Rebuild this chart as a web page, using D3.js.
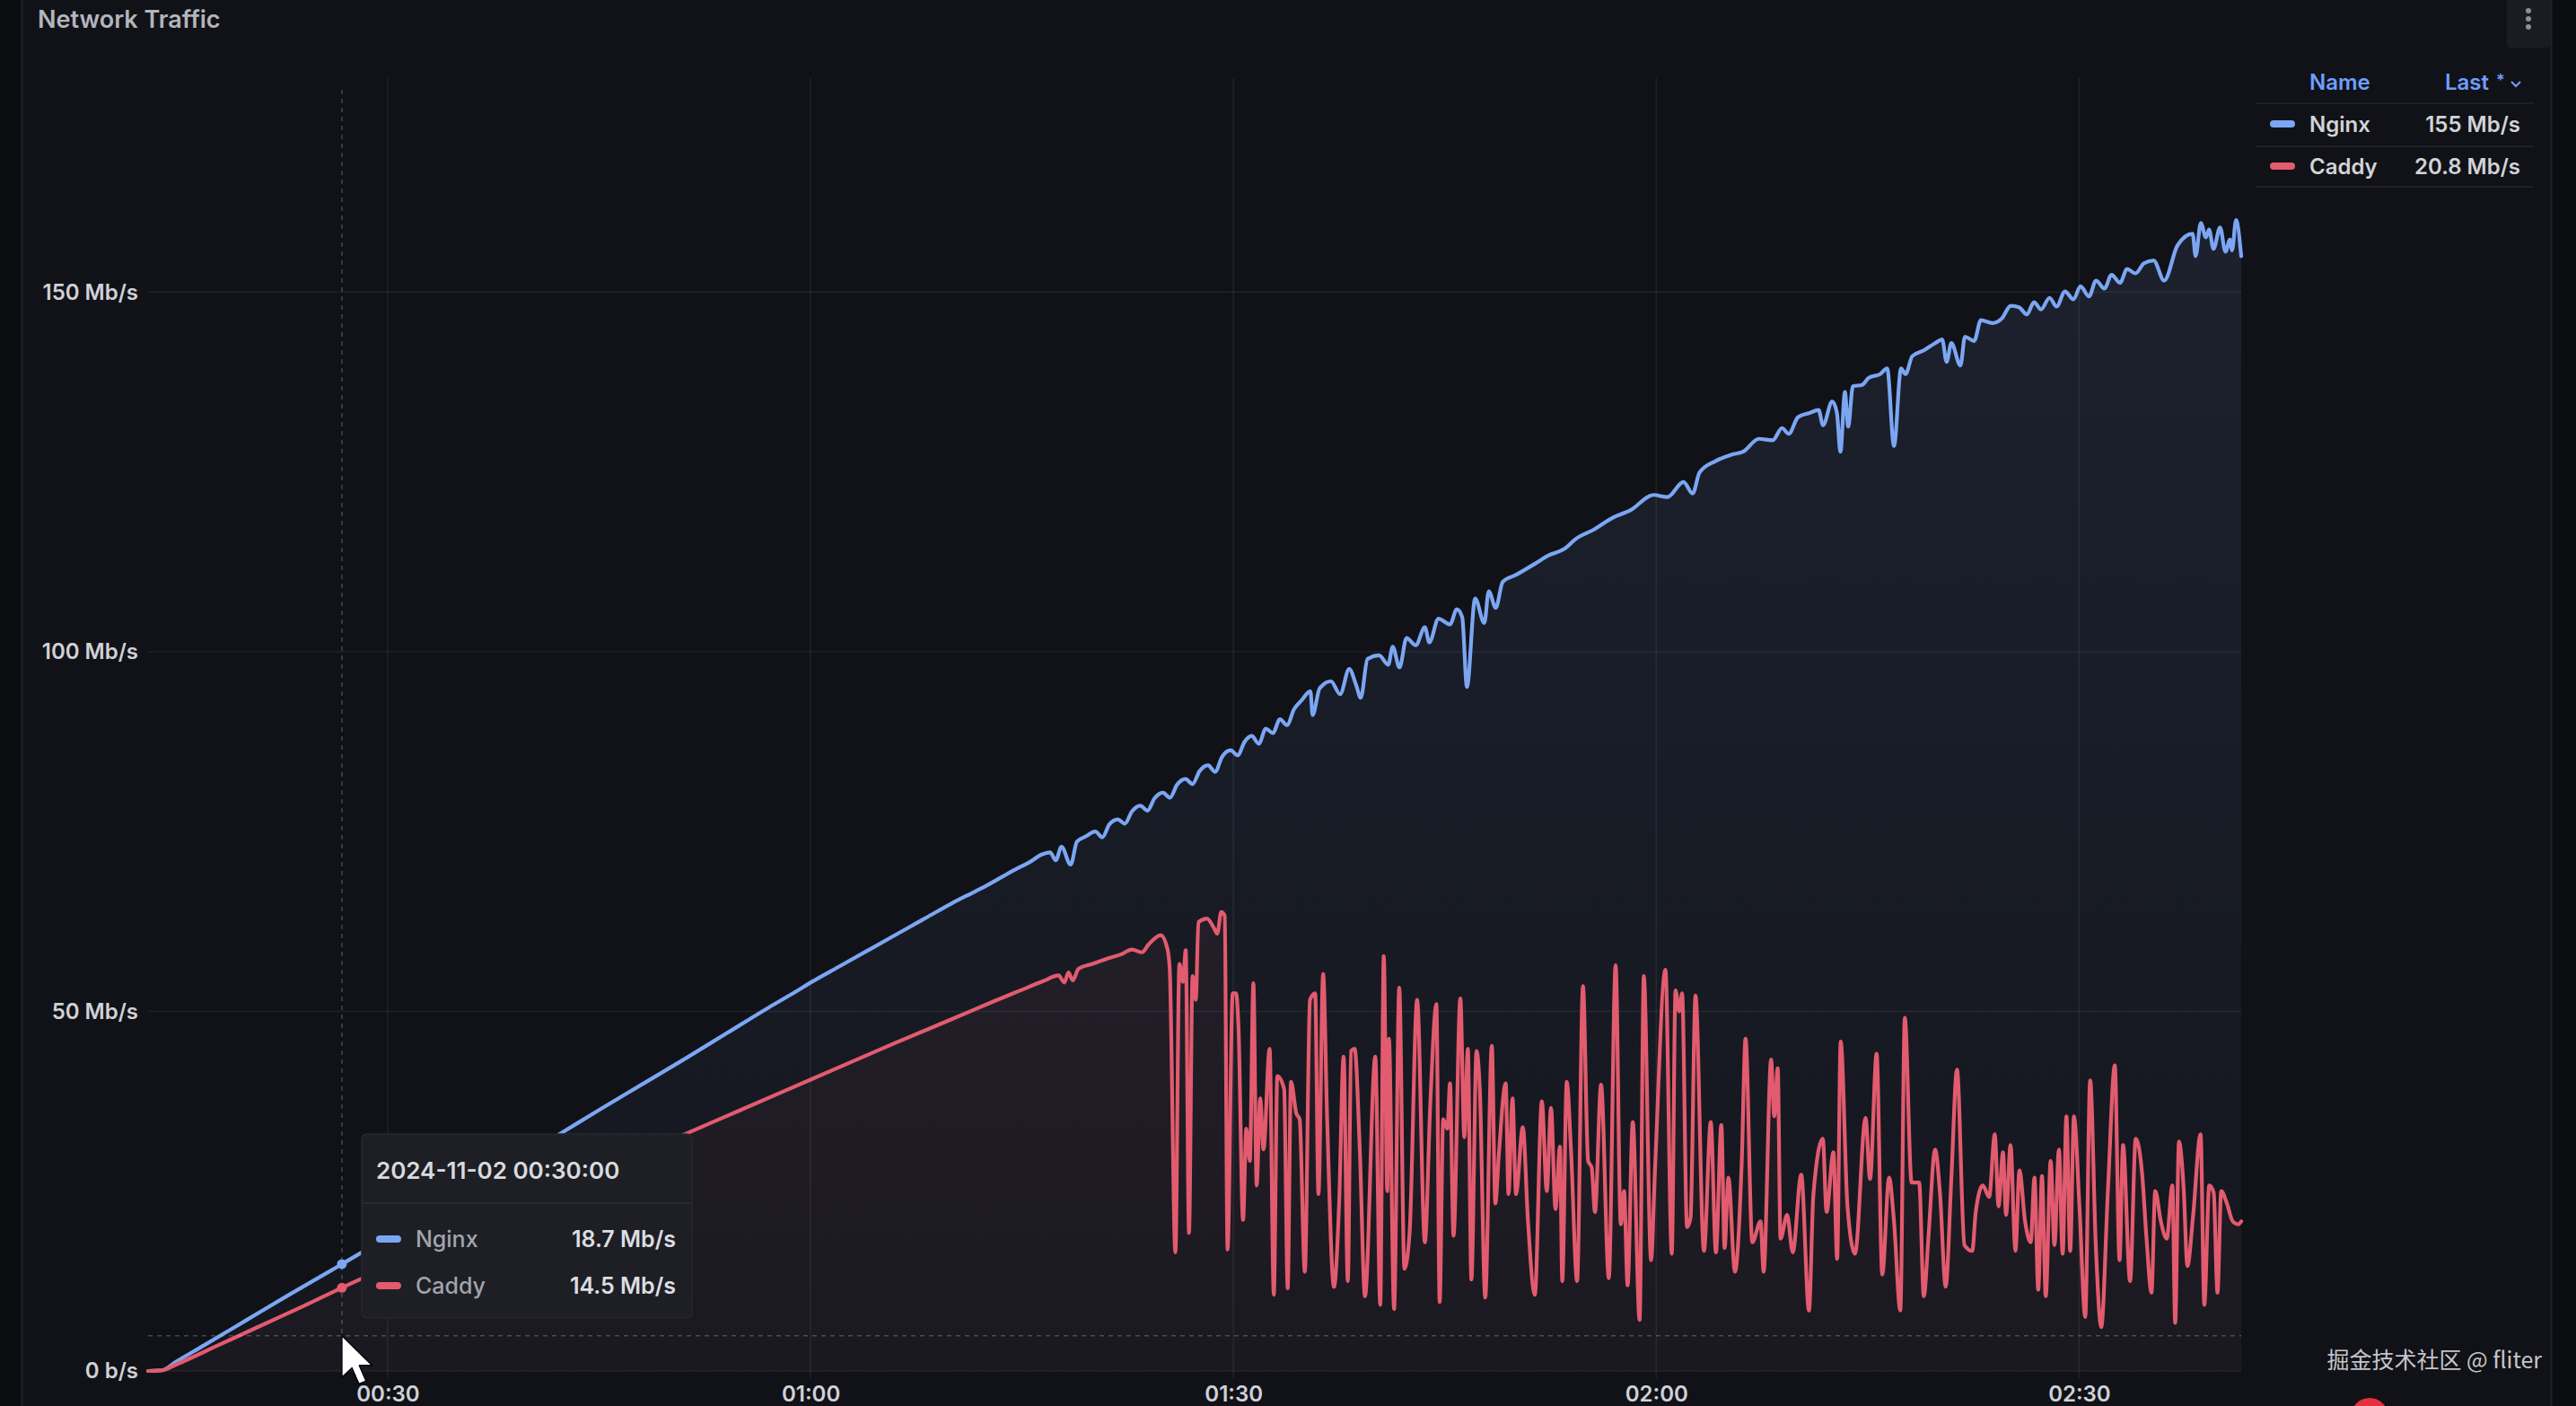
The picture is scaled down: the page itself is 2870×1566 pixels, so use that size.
<!DOCTYPE html>
<html>
<head>
<meta charset="utf-8">
<title>Network Traffic</title>
<script src="https://cdn.jsdelivr.net/npm/d3@7"></script>
<style>
  html, body { margin: 0; padding: 0; background: #0c0d10; overflow: hidden; }
  svg { display: block; font-family: Inter, "Noto Sans", sans-serif; }
</style>
</head>
<body>
<script>
const day = "2024-11-02";
const seriesNames = ["Nginx", "Caddy"];
const seriesColors = ["#7ba6f3", "#e25b6e"];

// [minute of day, Mb/s]
const nginxPoints = [
  [13.0, 0], [14.0, 0.1], [15.0, 1.3], [17.0, 3.6], [20.0, 7.1], [23.0, 10.6], [26.0, 14.0], [28.0, 16.3],
  [30.0, 18.7], [33.0, 22.2], [36.0, 25.7], [39.0, 29.2], [42.0, 32.7], [45.0, 36.3], [48.0, 39.8], [51.0, 43.3],
  [54.0, 46.9], [57.0, 50.5], [59.0, 52.8], [60.0, 54.0], [62.0, 56.2], [64.0, 58.4], [66.0, 60.6], [68.0, 62.8],
  [70.0, 65.0], [71.5, 66.5], [72.4, 67.4], [73.5, 68.6], [74.5, 69.7], [75.5, 70.7], [76.4, 71.8], [77.0, 72.1],
  [77.4, 71.0], [77.8, 72.9], [78.45, 70.4], [78.9, 73.6], [79.5, 74.3], [80.2, 75.0], [80.7, 74.2], [81.2, 76.0],
  [81.8, 76.7], [82.3, 76.1], [82.8, 77.8], [83.4, 78.6], [83.9, 77.9], [84.4, 79.6], [85.0, 80.4], [85.5, 79.7],
  [86.0, 81.5], [86.6, 82.3], [87.1, 81.6], [87.6, 83.4], [88.2, 84.2], [88.7, 83.3], [89.2, 85.4], [89.8, 86.3],
  [90.3, 85.6], [90.8, 87.5], [91.3, 88.3], [91.8, 87.2], [92.3, 89.3], [92.8, 88.7], [93.3, 90.6], [93.8, 89.8],
  [94.3, 92.0], [94.81, 93.2], [95.46, 94.5], [95.62, 91.2], [96.11, 94.9], [96.92, 95.9], [97.57, 94.1], [98.22, 97.6],
  [98.71, 95.3], [99.03, 93.6], [99.52, 99.0], [100.33, 99.5], [100.98, 98.2], [101.30, 100.7], [101.79, 97.8], [102.28, 101.9],
  [102.93, 100.9], [103.58, 103.4], [103.90, 101.3], [104.55, 104.6], [105.36, 103.8], [105.85, 105.9], [106.24, 104.8], [106.57, 95.1],
  [107.15, 107.4], [107.80, 104.0], [108.12, 108.4], [108.61, 106.1], [109.10, 109.7], [110.07, 110.7], [111.37, 112.2], [112.35, 113.4],
  [113.48, 114.3], [114.30, 115.7], [115.59, 117.0], [116.89, 118.6], [118.19, 119.7], [119.82, 121.8], [120.79, 121.5], [121.93, 123.6],
  [122.58, 122.0], [123.07, 124.9], [124.20, 126.5], [125.34, 127.4], [126.15, 127.8], [127.29, 129.6], [128.26, 129.4], [128.91, 131.1],
  [129.40, 130.3], [130.05, 132.6], [130.86, 133.2], [131.51, 133.6], [131.84, 131.5], [132.49, 134.8], [132.81, 133.2], [133.07, 127.8],
  [133.39, 136.1], [133.62, 131.3], [133.95, 136.9], [134.60, 137.1], [135.08, 138.1], [135.89, 138.6], [136.38, 139.4], [136.87, 128.6],
  [137.36, 139.4], [137.68, 138.6], [138.17, 141.1], [138.98, 141.9], [139.79, 142.9], [140.28, 143.4], [140.60, 140.3], [140.93, 142.9],
  [141.58, 139.8], [141.90, 143.8], [142.55, 143.2], [143.04, 146.1], [143.85, 145.7], [144.50, 146.3], [145.15, 148.1], [145.74, 147.9],
  [146.3, 146.9], [146.8, 148.6], [147.3, 147.6], [147.9, 149.2], [148.4, 148.0], [149.0, 150.1], [149.6, 149.0], [150.1, 150.8],
  [150.7, 149.4], [151.2, 151.6], [151.8, 150.5], [152.3, 152.4], [152.9, 151.3], [153.4, 153.2], [154.0, 152.6], [154.6, 154.0],
  [155.29, 154.4], [156.03, 151.6], [156.99, 156.5], [158.05, 158.1], [158.26, 155.0], [158.64, 159.6], [159.00, 157.6], [159.22, 158.7],
  [159.53, 156.0], [160.00, 159.0], [160.38, 155.6], [160.70, 157.3], [160.85, 155.8], [161.13, 160.0], [161.5, 155.0]
];

const caddyPoints = [
  [13.0, 0], [14.0, 0.1], [15.0, 0.9], [18.0, 3.6], [21.0, 6.3], [24.0, 9.0], [27.0, 11.8], [30.0, 14.5],
  [34.0, 18.0], [38.0, 21.5], [42.0, 25.0], [46.0, 28.5], [50.0, 32.0], [54.0, 35.4], [58.0, 38.8], [62.0, 42.2],
  [66.0, 45.6], [70.0, 48.9], [73.0, 51.4], [75.0, 53.0], [76.5, 54.2], [77.6, 55.0], [78.0, 54.0], [78.3, 55.4],
  [78.6, 54.3], [79.0, 55.9], [80.0, 56.6], [81.0, 57.3], [82.0, 57.9], [82.8, 58.6], [83.5, 58.2], [83.98, 59.3],
  [84.83, 60.6], [85.32, 58.7], [85.49, 55.8], [85.88, 16.5], [86.17, 56.6], [86.42, 54.1], [86.61, 58.5], [86.85, 19.2],
  [87.10, 54.9], [87.34, 51.6], [87.51, 62.4], [88.12, 62.9], [88.61, 61.6], [88.85, 60.8], [89.14, 63.8], [89.39, 63.3],
  [89.58, 16.9], [89.95, 52.5], [90.19, 52.5], [90.36, 47.5], [90.68, 21.0], [90.92, 33.7], [91.17, 29.2], [91.41, 53.9],
  [91.65, 25.8], [91.90, 37.9], [92.14, 30.8], [92.56, 44.8], [92.87, 10.6], [93.12, 41.0], [93.60, 39.2], [93.85, 11.5],
  [94.09, 40.2], [94.46, 35.8], [94.70, 35.0], [95.06, 13.8], [95.43, 51.6], [95.80, 52.5], [96.04, 24.6], [96.36, 55.2],
  [96.65, 35.0], [97.14, 11.7], [97.50, 23.3], [97.82, 43.7], [98.11, 12.5], [98.35, 44.5], [98.60, 44.8], [98.96, 30.8],
  [99.33, 10.4], [100.06, 43.7], [100.42, 9.2], [100.67, 57.7], [100.91, 25.0], [101.03, 46.2], [101.40, 8.6], [101.76, 53.3],
  [102.13, 14.2], [102.50, 19.2], [103.03, 51.6], [103.59, 17.9], [103.96, 37.1], [104.40, 51.0], [104.64, 9.6], [104.88, 35.0],
  [105.18, 33.7], [105.37, 40.0], [105.61, 18.8], [106.10, 51.8], [106.39, 32.5], [106.64, 44.8], [106.88, 12.7], [107.25, 44.5],
  [107.49, 39.1], [107.86, 10.2], [108.34, 45.2], [108.59, 23.3], [108.83, 30.2], [109.32, 40.0], [109.51, 24.6], [109.80, 37.9],
  [110.05, 24.6], [110.54, 33.9], [110.90, 20.8], [111.39, 10.6], [111.88, 37.5], [112.24, 25.0], [112.53, 36.6], [112.85, 22.5],
  [113.17, 31.2], [113.34, 12.5], [113.65, 40.2], [113.95, 30.8], [114.38, 12.5], [114.80, 53.5], [115.16, 29.2], [115.41, 28.3],
  [115.65, 22.1], [116.09, 39.8], [116.63, 12.9], [117.11, 56.4], [117.48, 20.4], [117.72, 25.0], [117.97, 11.9], [118.33, 34.6],
  [118.82, 7.1], [119.11, 54.9], [119.63, 15.4], [119.90, 27.5], [120.65, 55.8], [121.10, 16.3], [121.37, 52.9], [121.64, 50.0],
  [121.83, 52.5], [122.18, 20.0], [122.44, 21.3], [122.79, 52.2], [123.38, 16.7], [123.86, 34.6], [124.24, 16.5], [124.61, 34.2],
  [124.85, 17.1], [125.12, 26.9], [125.58, 13.8], [126.06, 29.2], [126.33, 46.2], [126.81, 17.9], [127.40, 20.8], [127.61, 13.8],
  [128.15, 43.3], [128.37, 35.4], [128.61, 42.1], [128.82, 18.4], [129.28, 21.7], [129.68, 16.5], [130.29, 27.3], [130.83, 8.4],
  [131.15, 24.6], [131.82, 32.3], [132.09, 22.1], [132.57, 30.4], [132.84, 15.6], [133.08, 45.8], [133.56, 22.9], [134.10, 16.3],
  [134.85, 35.2], [135.17, 26.7], [135.63, 44.1], [136.03, 13.4], [136.51, 26.9], [136.86, 20.8], [137.31, 8.4], [137.64, 49.1],
  [138.12, 26.2], [138.65, 26.2], [138.98, 10.4], [139.32, 18.8], [139.78, 30.8], [140.13, 24.6], [140.53, 11.7], [140.93, 26.7],
  [141.33, 41.9], [141.87, 17.5], [142.41, 16.7], [142.67, 22.1], [143.16, 25.8], [143.61, 24.2], [144.01, 32.9], [144.28, 22.9],
  [144.60, 30.4], [144.82, 21.7], [145.14, 31.4], [145.49, 16.7], [145.76, 27.9], [146.16, 20.8], [146.56, 17.9], [146.83, 26.9],
  [147.10, 11.3], [147.36, 27.1], [147.63, 10.4], [147.98, 29.2], [148.25, 17.5], [148.57, 30.8], [148.84, 16.3], [149.10, 35.4],
  [149.37, 16.7], [149.64, 35.4], [150.04, 22.5], [150.44, 7.5], [150.79, 40.4], [151.19, 17.5], [151.57, 6.1], [152.05, 25.4],
  [152.53, 42.5], [152.86, 15.4], [153.12, 31.4], [153.61, 12.5], [154.01, 32.3], [154.46, 27.5], [154.79, 18.4], [155.13, 10.9],
  [155.40, 25.0], [155.80, 20.8], [156.21, 18.4], [156.61, 25.8], [156.82, 6.7], [157.09, 31.9], [157.41, 25.4], [157.68, 14.6],
  [158.08, 21.5], [158.62, 32.9], [158.88, 9.2], [159.23, 25.8], [159.55, 24.8], [159.82, 10.9], [160.09, 25.0], [160.49, 23.3],
  [160.90, 20.8], [161.30, 20.4], [161.5, 20.8]
];

const yTicks = [0, 50, 100, 150];
const yMax = 180;
const tooltipMinute = 30;                    // 00:30:00
const crosshair = { minute: 26.75, value: 4.9 };
const watermark = "掘金技术社区 @ fliter";

const width = 2870, height = 1566;
const plot = { left: 165, right: 2497, top: 85, bottom: 1527 };

let base = d3.timeParse("%Y-%m-%d")(day);
let toDate = (m) => d3.timeSecond.offset(base, Math.round(m * 60));
let fmt = (v) => v === 0 ? "0 b/s" : d3.format(".3~r")(v) + " Mb/s";

let series = [nginxPoints, caddyPoints].map((pts, i) => ({
  name: seriesNames[i],
  color: seriesColors[i],
  values: pts.map(p => ({ date: toDate(p[0]), value: p[1] }))
}));

let x = d3.scaleTime()
  .domain([toDate(nginxPoints[0][0]), toDate(nginxPoints[nginxPoints.length - 1][0])])
  .range([plot.left, plot.right]);
let y = d3.scaleLinear().domain([0, yMax]).range([plot.bottom, plot.top]);

function valueAt(values, date) {
  let i = d3.bisector(d => d.date).left(values, date);
  if (i <= 0) return values[0].value;
  if (i >= values.length) return values[values.length - 1].value;
  let a = values[i - 1], b = values[i];
  let t = (date - a.date) / (b.date - a.date);
  return a.value + (b.value - a.value) * t;
}

let svg = d3.select("body").append("svg")
  .attr("width", width)
  .attr("height", height);

let defs = svg.append("defs");
series.forEach((s, i) => {
  let g = defs.append("linearGradient")
    .attr("id", "fill" + i)
    .attr("gradientUnits", "userSpaceOnUse")
    .attr("x1", 0).attr("x2", 0)
    .attr("y1", plot.top).attr("y2", plot.bottom);
  g.append("stop").attr("offset", 0).attr("stop-color", s.color).attr("stop-opacity", 0.11);
  g.append("stop").attr("offset", 1).attr("stop-color", s.color).attr("stop-opacity", 0.03);
});

// panel
svg.append("rect").attr("width", width).attr("height", height).attr("fill", "#0c0d10");
svg.append("rect")
  .attr("x", 24.5).attr("y", -10).attr("width", 2818).attr("height", height + 20)
  .attr("fill", "#111217").attr("stroke", "#202127").attr("stroke-width", 2);

svg.append("text")
  .attr("x", 42).attr("y", 31)
  .attr("font-size", 27).attr("font-weight", 600)
  .attr("fill", "#b3b5bc")
  .text("Network Traffic");

// panel menu
svg.append("rect").attr("x", 2793).attr("y", -6).attr("width", 49).attr("height", 59).attr("rx", 4).attr("fill", "#1b1c21");
svg.selectAll(".menu-dot").data([12, 21, 30]).enter().append("circle")
  .attr("cx", 2817).attr("cy", d => d).attr("r", 3).attr("fill", "#8d8f97");

//////////
// grid //
//////////

let grid = svg.append("g").attr("stroke", "rgba(204,204,220,0.09)").attr("stroke-width", 1.5);
grid.selectAll(".hgrid").data(yTicks).enter().append("line")
  .attr("x1", plot.left).attr("x2", plot.right)
  .attr("y1", d => y(d)).attr("y2", d => y(d));
let xTicks = x.ticks(d3.timeMinute.every(30));
grid.selectAll(".vgrid").data(xTicks).enter().append("line")
  .attr("x1", d => x(d)).attr("x2", d => x(d))
  .attr("y1", plot.top + 2).attr("y2", plot.bottom + 8);

////////////
// series //
////////////

let area = d3.area()
  .curve(d3.curveMonotoneX)
  .x(d => x(d.date))
  .y0(y(0))
  .y1(d => y(d.value));
let line = d3.line()
  .curve(d3.curveMonotoneX)
  .x(d => x(d.date))
  .y(d => y(d.value));

series.forEach((s, i) => {
  svg.append("path").datum(s.values)
    .attr("d", area)
    .attr("fill", "url(#fill" + i + ")");
  svg.append("path").datum(s.values)
    .attr("d", line)
    .attr("fill", "none")
    .attr("stroke", s.color)
    .attr("stroke-width", 4.2)
    .attr("stroke-linejoin", "round")
    .attr("stroke-linecap", "round");
});

//////////
// axes //
//////////

let yAxis = svg.append("g")
  .attr("transform", "translate(" + plot.left + ",0)")
  .call(d3.axisLeft(y).tickValues(yTicks).tickFormat(fmt).tickSize(0).tickPadding(11));
let xAxis = svg.append("g")
  .attr("transform", "translate(0," + plot.bottom + ")")
  .call(d3.axisBottom(x).ticks(d3.timeMinute.every(30)).tickFormat(d3.timeFormat("%H:%M")).tickSize(0).tickPadding(17));
[yAxis, xAxis].forEach(a => {
  a.select(".domain").remove();
  a.selectAll("text")
    .attr("font-family", "Inter, sans-serif")
    .attr("font-size", 24)
    .attr("font-weight", 600)
    .attr("fill", "#d0d1d7");
});

///////////////
// crosshair //
///////////////

let cx = x(toDate(crosshair.minute));
let cy = y(crosshair.value);
let hair = svg.append("g")
  .attr("stroke", "rgba(210,210,220,0.28)")
  .attr("stroke-width", 1.5)
  .attr("stroke-dasharray", "5 5");
hair.append("line").attr("x1", cx).attr("x2", cx).attr("y1", plot.top + 15).attr("y2", plot.bottom);
hair.append("line").attr("x1", plot.left).attr("x2", plot.right).attr("y1", cy).attr("y2", cy);

series.forEach(s => {
  svg.append("circle")
    .attr("cx", cx)
    .attr("cy", y(valueAt(s.values, toDate(crosshair.minute))))
    .attr("r", 5.5)
    .attr("fill", s.color);
});

/////////////
// tooltip //
/////////////

let tipDate = toDate(tooltipMinute);
let tip = svg.append("g").attr("transform", "translate(" + (cx + 22) + "," + 1263 + ")");
tip.append("rect")
  .attr("width", 368).attr("height", 205).attr("rx", 6)
  .attr("fill", "#1d1f25").attr("stroke", "#26282e").attr("stroke-width", 1.5);
tip.append("text")
  .attr("x", 16).attr("y", 50)
  .attr("font-size", 26).attr("font-weight", 600)
  .attr("fill", "#d9dade")
  .text(d3.timeFormat("%Y-%m-%d %H:%M:%S")(tipDate));
tip.append("line").attr("x1", 0).attr("x2", 368).attr("y1", 77).attr("y2", 77)
  .attr("stroke", "#2d2f36").attr("stroke-width", 1.5);
let tipRow = tip.selectAll(".row").data(series).enter().append("g")
  .attr("transform", (d, i) => "translate(0," + (117 + i * 52) + ")");
tipRow.append("rect")
  .attr("x", 16).attr("y", -4).attr("width", 28).attr("height", 8).attr("rx", 4)
  .attr("fill", d => d.color);
tipRow.append("text")
  .attr("x", 60).attr("y", 9)
  .attr("font-size", 25).attr("font-weight", 500)
  .attr("fill", "#a2a4ab")
  .text(d => d.name);
tipRow.append("text")
  .attr("x", 350).attr("y", 9)
  .attr("text-anchor", "end")
  .attr("font-size", 25).attr("font-weight", 600)
  .attr("fill", "#dcdde2")
  .text(d => fmt(+valueAt(d.values, tipDate).toFixed(1)));

////////////
// legend //
////////////

let legend = svg.append("g");
legend.append("text")
  .attr("x", 2573).attr("y", 100)
  .attr("font-size", 24).attr("font-weight", 600).attr("fill", "#6e9fff")
  .text("Name");
legend.append("text")
  .attr("x", 2773).attr("y", 100)
  .attr("text-anchor", "end")
  .attr("font-size", 24).attr("font-weight", 600).attr("fill", "#6e9fff")
  .text("Last");
legend.append("text")
  .attr("x", 2781).attr("y", 96)
  .attr("font-size", 18).attr("font-weight", 600).attr("fill", "#6e9fff")
  .text("*");
legend.append("path")
  .attr("d", "M2798,91 L2803,96 L2808,91")
  .attr("fill", "none").attr("stroke", "#6e9fff").attr("stroke-width", 2);
legend.selectAll(".sep").data([115, 163, 208]).enter().append("line")
  .attr("x1", 2513).attr("x2", 2823)
  .attr("y1", d => d).attr("y2", d => d)
  .attr("stroke", "#24262c").attr("stroke-width", 1.5);
let legendRow = legend.selectAll(".row").data(series).enter().append("g")
  .attr("transform", (d, i) => "translate(0," + (138 + i * 47) + ")");
legendRow.append("rect")
  .attr("x", 2529).attr("y", -4).attr("width", 28).attr("height", 8).attr("rx", 4)
  .attr("fill", d => d.color);
legendRow.append("text")
  .attr("x", 2573).attr("y", 9)
  .attr("font-size", 24).attr("font-weight", 600).attr("fill", "#d2d3d8")
  .text(d => d.name);
legendRow.append("text")
  .attr("x", 2808).attr("y", 9)
  .attr("text-anchor", "end")
  .attr("font-size", 24).attr("font-weight", 600).attr("fill", "#d2d3d8")
  .text(d => fmt(d.values[d.values.length - 1].value));

// mouse pointer
svg.append("path")
  .attr("transform", "translate(" + cx + "," + cy + ") scale(2.8)")
  .attr("d", "M0,0 L0,16.5 L4,12.8 L6.8,19.2 L9.6,18 L6.9,11.8 L12,11.8 Z")
  .attr("fill", "#ffffff").attr("stroke", "#000000").attr("stroke-width", 0.5)
  .attr("stroke-linejoin", "round");

// watermark
svg.append("text")
  .attr("x", 2832).attr("y", 1524)
  .attr("text-anchor", "end")
  .attr("font-family", "'Noto Sans CJK SC', sans-serif")
  .attr("font-size", 25)
  .attr("fill", "rgba(232,232,236,0.85)")
  .text(watermark);
svg.append("circle").attr("cx", 2640).attr("cy", 1578).attr("r", 21).attr("fill", "#e4313d");
</script>
</body>
</html>
